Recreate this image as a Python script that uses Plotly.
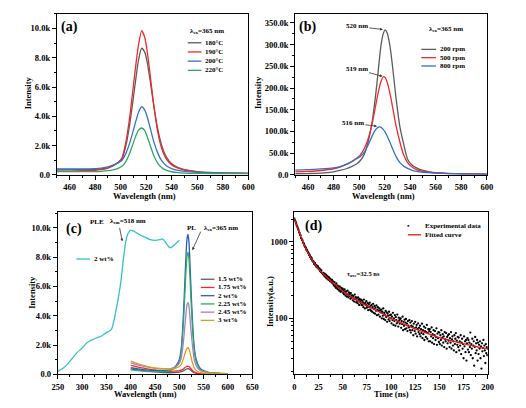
import plotly.graph_objects as go

# ---------- (a) PL vs reaction temperature (intensity in thousands) ----------
wl_a = [450, 460, 470, 480, 485, 490, 494, 498, 501, 504, 507, 510, 512, 514, 516.5,
        519, 521, 523, 526, 529, 532, 536, 540, 545, 550, 560, 570, 580, 590, 600]
a_180 = [0.34, 0.35, 0.36, 0.37, 0.40, 0.48, 0.62, 0.84, 1.10, 1.95, 3.40, 5.30, 6.65, 7.85, 8.65,
         8.35, 7.60, 6.50, 4.70, 3.15, 2.05, 1.20, 0.75, 0.50, 0.36, 0.22, 0.16, 0.13, 0.11, 0.10]
a_190 = [0.25, 0.26, 0.28, 0.31, 0.35, 0.45, 0.62, 0.85, 1.15, 2.20, 3.90, 6.10, 7.60, 8.90, 9.85,
         9.35, 8.30, 6.90, 4.70, 2.95, 1.85, 1.05, 0.68, 0.45, 0.33, 0.20, 0.15, 0.12, 0.11, 0.10]
a_200 = [0.40, 0.40, 0.40, 0.42, 0.46, 0.54, 0.66, 0.82, 1.00, 1.45, 2.15, 3.05, 3.70, 4.28, 4.65,
         4.40, 3.90, 3.25, 2.25, 1.50, 0.98, 0.60, 0.42, 0.30, 0.24, 0.17, 0.14, 0.12, 0.11, 0.10]
a_220 = [0.22, 0.22, 0.22, 0.22, 0.24, 0.28, 0.34, 0.44, 0.58, 0.90, 1.45, 2.20, 2.68, 3.05, 3.20,
         3.00, 2.55, 2.05, 1.30, 0.80, 0.50, 0.30, 0.21, 0.15, 0.12, 0.10, 0.09, 0.08, 0.08, 0.08]
a_names = ["180°C", "190°C", "200°C", "220°C"]

# ---------- (b) PL vs stirring speed (thousands) ----------
wl_b = [450, 460, 470, 480, 485, 490, 494, 498, 501, 504, 507, 510, 513, 515, 517, 519, 520.5,
        522, 524, 526, 529, 532, 535, 538, 541, 545, 550, 555, 560, 570, 580, 590, 600]
b_200 = [2.5, 3, 4, 7, 10, 14, 19, 25, 33, 47, 75, 118, 185, 240, 295, 326, 334,
         327, 300, 255, 175, 110, 70, 36, 24, 16, 10, 7, 5, 3.5, 2.5, 2, 1.8]
b_500 = [7, 8, 10, 14, 18, 24, 30, 38, 46, 60, 82, 115, 160, 190, 214, 226, 224,
         213, 190, 160, 112, 75, 45, 28, 19, 12, 8, 6, 4.5, 3, 2.5, 2, 1.8]
b_800 = [11, 12, 13.5, 16, 19, 24, 30, 37, 42, 52, 68, 88, 104, 110, 110, 104, 98,
         89, 76, 62, 42, 28, 20, 15, 11, 8, 6, 5, 4, 3, 2.5, 2, 1.8]
b_names = ["200 rpm", "500 rpm", "800 rpm"]

# ---------- (c) PLE and PL vs doping (thousands) ----------
wl_ple = [250, 260, 270, 280, 290, 300, 310, 320, 330, 340, 350, 360, 365, 370, 375, 380, 385, 390,
          395, 400, 405, 410, 420, 430, 440, 450, 460, 465, 470, 475, 480, 485, 490, 495, 500]
ple_2 = [0.2, 0.4, 0.7, 1.1, 1.5, 1.8, 2.15, 2.35, 2.5, 2.62, 2.85, 3.05, 3.6, 4.4, 5.3, 6.4, 7.9, 9.1,
         9.65, 9.85, 9.8, 9.7, 9.5, 9.35, 9.2, 9.15, 9.2, 9.25, 9.1, 8.85, 8.65, 8.7, 8.85, 9.0, 9.15]
wl_pl = [400, 410, 420, 430, 440, 450, 460, 470, 480, 490, 495, 500, 504, 508, 511, 514,
         516, 518, 520, 522, 525, 528, 531, 535, 540, 545, 550, 560, 570, 580, 590, 600]
pl_150 = [0.38, 0.33, 0.28, 0.24, 0.20, 0.17, 0.14, 0.12, 0.11, 0.12, 0.13, 0.15, 0.18, 0.24, 0.30, 0.35,
          0.38, 0.39, 0.37, 0.32, 0.24, 0.16, 0.11, 0.07, 0.05, 0.04, 0.03, 0.02, 0.02, 0.02, 0.02, 0.02]
pl_175 = [0.62, 0.54, 0.46, 0.40, 0.34, 0.30, 0.26, 0.23, 0.21, 0.22, 0.23, 0.25, 0.29, 0.37, 0.45, 0.52,
          0.55, 0.56, 0.53, 0.46, 0.34, 0.23, 0.15, 0.10, 0.07, 0.05, 0.04, 0.03, 0.03, 0.02, 0.02, 0.02]
pl_200 = [0.45, 0.40, 0.35, 0.31, 0.27, 0.25, 0.25, 0.26, 0.30, 0.48, 0.68, 1.02, 1.80, 3.80, 6.05, 8.30,
          9.30, 9.55, 8.95, 7.50, 5.10, 3.10, 1.75, 0.98, 0.55, 0.35, 0.25, 0.14, 0.10, 0.08, 0.06, 0.05]
pl_225 = [0.30, 0.27, 0.24, 0.21, 0.19, 0.18, 0.18, 0.19, 0.23, 0.40, 0.58, 0.88, 1.55, 3.30, 5.25, 7.25,
          8.10, 8.35, 7.80, 6.55, 4.45, 2.70, 1.55, 0.85, 0.48, 0.30, 0.22, 0.12, 0.08, 0.06, 0.05, 0.04]
pl_245 = [0.78, 0.68, 0.59, 0.52, 0.46, 0.41, 0.38, 0.37, 0.38, 0.48, 0.58, 0.76, 1.12, 2.10, 3.15, 4.25,
          4.78, 4.90, 4.60, 3.85, 2.65, 1.65, 0.98, 0.58, 0.35, 0.24, 0.18, 0.11, 0.08, 0.06, 0.05, 0.04]
pl_300 = [0.90, 0.78, 0.67, 0.58, 0.50, 0.44, 0.40, 0.37, 0.36, 0.40, 0.45, 0.53, 0.68, 1.02, 1.36, 1.66,
          1.78, 1.82, 1.72, 1.48, 1.05, 0.68, 0.42, 0.26, 0.16, 0.11, 0.08, 0.06, 0.05, 0.04, 0.04, 0.03]
pl_names = ["1.5 wt%", "1.75 wt%", "2 wt%", "2.25 wt%", "2.45 wt%", "3 wt%"]

# ---------- (d) PL decay, counts every 0.5 ns ----------
decay_counts = [
    2030, 1950, 1880, 1820, 1740, 1650, 1610, 1540, 1480, 1420, 1340, 1310, 1240, 1220, 1130, 1110, 1060, 1050, 990, 970,
    945, 900, 870, 858, 836, 790, 792, 760, 741, 720, 705, 668, 670, 633, 640, 598, 612, 580, 560, 555,
    552, 520, 511, 530, 492, 498, 470, 489, 463, 478, 450, 440, 452, 419, 433, 405, 425, 396, 392, 380,
    395, 372, 360, 384, 352, 345, 371, 333, 356, 341, 322, 348, 318, 335, 306, 326, 312, 298, 318, 287,
    305, 281, 270, 298, 262, 275, 251, 286, 259, 244, 268, 238, 257, 229, 262, 236, 222, 251, 228, 240,
    245, 214, 232, 206, 240, 221, 198, 226, 210, 192, 230, 205, 188, 218, 196, 209, 180, 214, 186, 198,
    200, 172, 195, 183, 166, 205, 178, 190, 162, 185, 170, 158, 188, 175, 150, 180, 168, 160, 176, 150,
    170, 148, 162, 140, 176, 155, 135, 160, 150, 168, 138, 145, 158, 128, 152, 140, 160, 130, 146, 125,
    150, 122, 140, 155, 118, 132, 145, 115, 138, 126, 148, 110, 130, 140, 112, 125, 135, 105, 128, 120,
    130, 100, 122, 108, 135, 98, 118, 112, 95, 125, 104, 120, 90, 115, 108, 97, 122, 92, 110, 100,
    112, 86, 105, 95, 118, 82, 100, 92, 110, 80, 104, 95, 86, 112, 90, 78, 102, 94, 85, 98,
    100, 75, 92, 84, 105, 70, 90, 80, 96, 72, 88, 98, 74, 85, 68, 92, 80, 76, 95, 70,
    88, 65, 80, 92, 70, 78, 60, 85, 74, 68, 90, 63, 76, 82, 58, 72, 86, 66, 75, 62,
    80, 58, 72, 64, 85, 55, 70, 62, 78, 52, 68, 75, 57, 66, 82, 54, 64, 72, 50, 68,
    72, 50, 66, 58, 76, 48, 62, 55, 70, 46, 60, 68, 52, 57, 74, 45, 63, 55, 66, 49,
    65, 46, 60, 52, 70, 44, 56, 62, 48, 58, 42, 66, 53, 50, 64, 40, 57, 47, 60, 51,
    62, 42, 55, 48, 66, 40, 53, 58, 44, 50, 38, 60, 46, 54, 64, 36, 51, 45, 57, 42,
    56, 38, 50, 44, 60, 34, 48, 54, 40, 46, 30, 58, 43, 50, 36, 52, 28, 47, 55, 39,
    52, 36, 48, 42, 65, 33, 46, 40, 54, 30, 44, 50, 24, 42, 57, 35, 47, 38, 52, 28,
    48, 34, 45, 40, 50, 30, 43, 22, 47, 37, 41, 52, 32, 44, 38, 26, 46, 35, 42, 33, 40,
]
decay_time = [i / 2 for i in range(len(decay_counts))]
fit_time = [0, 5, 10, 15, 20, 25, 30, 40, 50, 60, 70, 80, 90, 100, 110, 120, 130, 140, 150, 160, 170, 180, 190, 200]
fit_counts = [2050, 1350, 930, 690, 540, 445, 380, 290, 228, 188, 158, 136, 117, 100, 88, 77, 69, 62, 56, 52, 48, 45, 42, 40]

# tick labels
k_ticks_a = [0, 2, 4, 6, 8, 10]
k_text_a = ["0.0", "2.0k", "4.0k", "6.0k", "8.0k", "10.0k"]
k_ticks_b = [0, 50, 100, 150, 200, 250, 300, 350]
k_text_b = ["0.0", "50.0k", "100.0k", "150.0k", "200.0k", "250.0k", "300.0k", "350.0k"]
log_ticks_d = [100, 1000]
log_text_d = ["100", "1000"]
log_minor_d = [20, 30, 40, 50, 60, 70, 80, 90, 200, 300, 400, 500, 600, 700, 800, 900, 2000]

GRAY, RED, BLUE, GREEN = "#5c5c5c", "#f2282c", "#3670c8", "#2fa866"
PURPLE, ORANGE, CYAN, DBLUE = "#a67fc6", "#d99e1c", "#35c3c6", "#2c5db6"
FONT = "Liberation Serif"
W, H = 526, 408


def px(x):
    return x / W


def py(y):
    return 1 - y / H


fig = go.Figure()


def line(x, y, color, xa, ya, width=1.3):
    fig.add_trace(go.Scatter(x=x, y=y, mode="lines", xaxis=xa, yaxis=ya, showlegend=False,
                             line=dict(color=color, width=width, shape="spline", smoothing=0.6)))


for ys, c in zip([a_180, a_190, a_200, a_220], [GRAY, RED, BLUE, GREEN]):
    line(wl_a, ys, c, "x", "y")
for ys, c in zip([b_200, b_500, b_800], [GRAY, RED, BLUE]):
    line(wl_b, ys, c, "x2", "y2")
line(wl_ple, ple_2, CYAN, "x3", "y3")
pl_series = [pl_150, pl_175, pl_200, pl_225, pl_245, pl_300]
pl_colors = [GRAY, RED, DBLUE, GREEN, PURPLE, ORANGE]
for ys, c in zip(pl_series, pl_colors):
    line(wl_pl, ys, c, "x3", "y3")

fig.add_trace(go.Scatter(x=decay_time, y=decay_counts, mode="markers", xaxis="x4", yaxis="y4",
                         showlegend=False, marker=dict(color="black", size=2.3)))
fig.add_trace(go.Scatter(x=fit_time, y=fit_counts, mode="lines", xaxis="x4", yaxis="y4", showlegend=False,
                         line=dict(color="#e3161b", width=1.3, shape="spline")))


def axis(domain, anchor, **kw):
    d = dict(domain=domain, anchor=anchor, showline=True, mirror=True, linecolor="black", linewidth=1,
             ticks="outside", ticklen=4, tickwidth=1, tickcolor="black", showgrid=False, zeroline=False,
             tickfont=dict(family=FONT, size=8.5, color="black", weight="bold"))
    d.update(kw)
    return d


def minor(step):
    return dict(ticks="outside", ticklen=2, tickcolor="black", dtick=step, showgrid=False)


top_y = [py(177), py(14)]
bot_y = [py(379), py(215)]
fig.update_layout(
    width=W, height=H, margin=dict(l=0, r=0, t=0, b=0),
    paper_bgcolor="white", plot_bgcolor="white", showlegend=False,
    xaxis=axis([px(52), px(248)], "y", range=[450, 600], dtick=20, tick0=460, minor=minor(10)),
    yaxis=axis(top_y, "x", range=[0, 11.0], tickvals=k_ticks_a, ticktext=k_text_a, minor=minor(1)),
    xaxis2=axis([px(296), px(492)], "y2", range=[450, 600], dtick=20, tick0=460, minor=minor(10)),
    yaxis2=axis(top_y, "x2", range=[0, 371], tickvals=k_ticks_b, ticktext=k_text_b, minor=minor(25)),
    xaxis3=axis([px(53), px(252)], "y3", range=[250, 650], dtick=50, minor=minor(25)),
    yaxis3=axis(bot_y, "x3", range=[0, 11.06], tickvals=k_ticks_a, ticktext=k_text_a, minor=minor(1)),
    xaxis4=axis([px(295), px(493)], "y4", range=[0, 200], dtick=25, minor=minor(12.5)),
    yaxis4=axis(bot_y, "x4", type="log", range=[1.266, 3.388], tickvals=log_ticks_d, ticktext=log_text_d,
                minor=dict(ticks="outside", ticklen=2, tickcolor="black", tickmode="array",
                           tickvals=log_minor_d)),
)


def text(x, y, s, size=7, anchor="left", angle=0, xref="paper", yref="paper"):
    if xref == "paper":
        x, y = px(x), py(y)
    fig.add_annotation(x=x, y=y, xref=xref, yref=yref, text=s, showarrow=False, xanchor=anchor,
                       yanchor="middle", textangle=angle,
                       font=dict(family=FONT, size=size, color="black", weight="bold"))


def legend_line(x0, x1, y, color, label):
    fig.add_shape(type="line", xref="paper", yref="paper", x0=px(x0), x1=px(x1), y0=py(y), y1=py(y),
                  line=dict(color=color, width=1.3))
    text(x1 + 2, y, label)


# panel letters
text(65, 27, "(a)", 14, "center")
text(309, 27, "(b)", 14, "center")
text(70, 232, "(c)", 14, "center")
text(315, 229, "(d)", 14, "center")

# axis titles
text(142, 198, "Wavelength (nm)", 8.5, "center")
text(386, 198, "Wavelength (nm)", 8.5, "center")
text(143, 398.5, "Wavelength (nm)", 8.5, "center")
text(394, 398.5, "Time (ns)", 8.5, "center")
text(22, 94, "Intensity", 8.5, "center", -90)
text(258, 94, "Intensity", 8.5, "center", -90)
text(27, 296, "Intensity", 8.5, "center", -90)
text(270, 305, "Intensity(a.u.)", 8.5, "center", -90)

# legend (a)
text(186, 31, "λ<sub>ex</sub>=365 nm")
for i, (name, c) in enumerate(zip(a_names, [GRAY, RED, BLUE, GREEN])):
    legend_line(186, 200, 43.3 + 9.3 * i, c, name)

# legend (b)
text(431, 29, "λ<sub>ex</sub>=365 nm")
for i, (name, c) in enumerate(zip(b_names, [GRAY, RED, BLUE])):
    legend_line(425, 440, 50 + 8.4 * i, c, name)

# legends (c)
legend_line(72, 86, 262.3, CYAN, "2 wt%")
for i, (name, c) in enumerate(zip(pl_names, pl_colors)):
    legend_line(199.3, 213.3, 282.7 + 8.33 * i, c, name)

# legend (d)
text(412, 229.3, "•", 7, "center")
text(427, 229.3, "Experimental data")
legend_line(411.3, 424.7, 237.7, "#e3161b", "Fitted curve")
text(366, 277, "τ<sub>ave</sub>=32.5 ns", 6.5, "center")


def arrow(xa, ya, x, y, ax, ay, label=""):
    fig.add_annotation(x=x, y=y, xref=xa, yref=ya, text=label, showarrow=True, ax=ax, ay=ay,
                       arrowhead=2, arrowsize=0.7, arrowwidth=0.8, arrowcolor="#333333",
                       font=dict(family=FONT, size=7, color="black", weight="bold"))


# peak labels (b)
arrow("x2", "y2", 518.6, 335, -26, -3, "520 nm")
arrow("x2", "y2", 518.4, 227, -26, -7, "519 nm")
arrow("x2", "y2", 514, 112, -24, -3, "516 nm")

# PLE / PL labels (c)
arrow("x3", "y3", 382.7, 9.08, -3, -15)
arrow("x3", "y3", 526.8, 8.48, 9, -20)
text(329.7, 10.38, "PLE", 7, "center", xref="x3", yref="y3")
text(394.7, 10.5, "λ<sub>em</sub>=518 nm", 7, "center", xref="x3", yref="y3")
text(525.4, 10.0, "PL", 7, "center", xref="x3", yref="y3")
text(584.7, 10.0, "λ<sub>ex</sub>=365 nm", 7, "center", xref="x3", yref="y3")

# pin the figure to the window origin so the page is exactly the figure's size
pin = ("document.body.style.margin='0';document.body.style.overflow='hidden';"
       "var gd=document.getElementById('{plot_id}');"
       "gd.style.position='fixed';gd.style.left='0';gd.style.top='0';")
fig.write_html("out.html", config={"displayModeBar": False}, post_script=pin)
